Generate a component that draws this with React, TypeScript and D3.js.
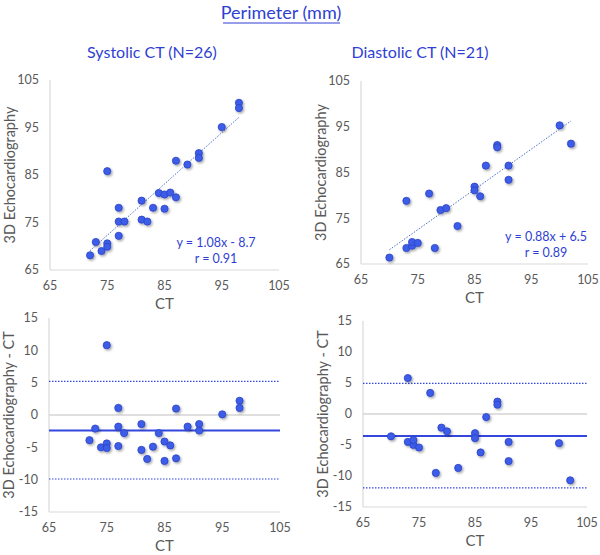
import React from "react";
import * as d3 from "d3";

// ---- Data ----
const sysCT = [72, 73, 74, 75, 75, 75, 77, 77, 77, 78, 81, 81, 82, 83, 84, 85, 85, 86, 87, 87, 89, 91, 91, 95, 98, 98];
const sysEcho = [68.1, 70.9, 69.0, 70.6, 69.9, 85.8, 72.2, 78.1, 75.2, 75.2, 79.6, 75.6, 75.2, 78.1, 81.2, 80.9, 77.9, 81.3, 80.3, 88.0, 87.2, 89.6, 88.6, 95.1, 100.2, 99.1];
const diaCT = [70, 73, 73, 74, 74, 75, 77, 78, 79, 80, 82, 85, 85, 86, 87, 89, 89, 91, 91, 100, 102];
const diaEcho = [66.4, 68.5, 78.8, 69.0, 69.8, 69.6, 80.4, 68.5, 76.8, 77.2, 73.3, 81.9, 81.1, 79.8, 86.5, 91.0, 90.5, 86.5, 83.4, 95.3, 91.3];

const sysFit = { slope: 1.08, intercept: -8.7, eq: "y = 1.08x - 8.7", r: "r = 0.91" };
const diaFit = { slope: 0.88, intercept: 6.5, eq: "y = 0.88x + 6.5", r: "r = 0.89" };

const sysBA = { mean: -2.4, upper: 5.2, lower: -9.9 };
const diaBA = { mean: -3.55, upper: 4.95, lower: -11.9 };

const xTicks = [65, 75, 85, 95, 105];
const yTicksScatter = [65, 75, 85, 95, 105];
const yTicksBA = [-15, -10, -5, 0, 5, 10, 15];

const mainTitle = "Perimeter (mm)";
const sysTitle = "Systolic CT (N=26)";
const diaTitle = "Diastolic CT (N=21)";

const FONT = "Lato, 'Open Sans', sans-serif";
const BLUE_TEXT = "#2f3fd4";
const GRAY_TEXT = "#595959";
const AXIS = "#d9d9d9";
const PT_FILL = "#3d5ce8";
const PT_STROKE = "#2b44c4";
const LINE_BLUE = "#3347dd";

type Box = { x0: number; x1: number; y0: number; y1: number };

function Axes({ box, xs, ys, yTicks, yTitle, zeroLine }: any) {
  return (
    <g>
      {zeroLine && (
        <line x1={box.x0} x2={box.x1} y1={ys(0)} y2={ys(0)} stroke="#bfbfbf" strokeWidth={1.2} />
      )}
      <line x1={box.x0} x2={box.x0} y1={box.y0} y2={box.y1} stroke={AXIS} strokeWidth={1.2} />
      <line x1={box.x0} x2={box.x1} y1={box.y1} y2={box.y1} stroke={AXIS} strokeWidth={1.2} />
      {yTicks.map((t: number) => (
        <text key={"y" + t} x={box.x0 - 11} y={ys(t)} dy="0.35em" textAnchor="end" fontSize={12.5} fill={GRAY_TEXT} fontFamily={FONT}>
          {t}
        </text>
      ))}
      {xTicks.map((t: number) => (
        <text key={"x" + t} x={xs(t)} y={box.y1 + 16} dy="0.35em" textAnchor="middle" fontSize={12.5} fill={GRAY_TEXT} fontFamily={FONT}>
          {t}
        </text>
      ))}
      <text x={(box.x0 + box.x1) / 2} y={box.y1 + 34} dy="0.35em" textAnchor="middle" fontSize={15} fill={GRAY_TEXT} fontFamily={FONT}>
        CT
      </text>
      <text
        transform={`translate(${box.x0 - 40},${(box.y0 + box.y1) / 2}) rotate(-90)`}
        dy="0.35em"
        textAnchor="middle"
        fontSize={14.5}
        fill={GRAY_TEXT}
        fontFamily={FONT}
      >
        {yTitle}
      </text>
    </g>
  );
}

function Points({ xs, ys, cx, cy }: any) {
  return (
    <g filter="url(#shadow)">
      {cx.map((v: number, i: number) => (
        <circle key={i} cx={xs(v)} cy={ys(cy[i])} r={3.6} fill={PT_FILL} stroke={PT_STROKE} strokeWidth={0.8} />
      ))}
    </g>
  );
}

function ScatterPanel({ box, ct, echo, fit, eqPos }: any) {
  const xs = d3.scaleLinear().domain([65, 105]).range([box.x0, box.x1]);
  const ys = d3.scaleLinear().domain([65, 105]).range([box.y1, box.y0]);
  const [mn, mx] = d3.extent(ct) as [number, number];
  const line = d3.line<number>().x((d) => xs(d)).y((d) => ys(fit.slope * d + fit.intercept));
  return (
    <g>
      <Axes box={box} xs={xs} ys={ys} yTicks={yTicksScatter} yTitle="3D Echocardiography" />
      <path d={line([mn, mx]) || ""} fill="none" stroke="#4a6fd0" strokeWidth={1} strokeDasharray="1.5 1.5" />
      <Points xs={xs} ys={ys} cx={ct} cy={echo} />
      <text x={eqPos[0]} y={eqPos[1]} dy="0.35em" textAnchor="middle" fontSize={12.5} fill={BLUE_TEXT} fontFamily={FONT}>
        {fit.eq}
      </text>
      <text x={eqPos[0]} y={eqPos[1] + 15.5} dy="0.35em" textAnchor="middle" fontSize={12.5} fill={BLUE_TEXT} fontFamily={FONT}>
        {fit.r}
      </text>
    </g>
  );
}

function BAPanel({ box, ct, echo, ba }: any) {
  const xs = d3.scaleLinear().domain([65, 105]).range([box.x0, box.x1]);
  const ys = d3.scaleLinear().domain([-15, 15]).range([box.y1, box.y0]);
  const diffs = echo.map((e: number, i: number) => e - ct[i]);
  return (
    <g>
      <Axes box={box} xs={xs} ys={ys} yTicks={yTicksBA} yTitle="3D Echocardiography - CT" zeroLine />
      <line x1={box.x0} x2={box.x1} y1={ys(ba.upper)} y2={ys(ba.upper)} stroke={LINE_BLUE} strokeWidth={1.2} strokeDasharray="1.5 1.5" />
      <line x1={box.x0} x2={box.x1} y1={ys(ba.lower)} y2={ys(ba.lower)} stroke={LINE_BLUE} strokeWidth={1.2} strokeDasharray="1.5 1.5" />
      <line x1={box.x0} x2={box.x1} y1={ys(ba.mean)} y2={ys(ba.mean)} stroke={LINE_BLUE} strokeWidth={1.8} />
      <Points xs={xs} ys={ys} cx={ct} cy={diffs} />
    </g>
  );
}

export default function App() {
  const tl: Box = { x0: 50, x1: 279, y0: 80, y1: 270 };
  const tr: Box = { x0: 361, x1: 588, y0: 81, y1: 264 };
  const bl: Box = { x0: 49, x1: 280, y0: 318, y1: 512 };
  const br: Box = { x0: 363, x1: 587, y0: 321, y1: 507 };
  return (
    <svg width={600} height={555} style={{ position: "absolute", left: 0, top: 0, background: "#fff" }}>
      <defs>
        <filter id="shadow" x="-50%" y="-50%" width="200%" height="200%">
          <feDropShadow dx={1.3} dy={1.5} stdDeviation={0.9} floodColor="#000" floodOpacity={0.35} />
        </filter>
      </defs>
      <rect width={600} height={555} fill="#fff" />
      <text x={281} y={13} dy="0.35em" textAnchor="middle" fontSize={18} fill={BLUE_TEXT} fontFamily={FONT}>
        {mainTitle}
      </text>
      <line x1={223} x2={340} y1={23} y2={23} stroke={BLUE_TEXT} strokeWidth={1} />
      <text x={152} y={52} dy="0.35em" textAnchor="middle" fontSize={16} fill={BLUE_TEXT} fontFamily={FONT}>
        {sysTitle}
      </text>
      <text x={420} y={52} dy="0.35em" textAnchor="middle" fontSize={16} fill={BLUE_TEXT} fontFamily={FONT}>
        {diaTitle}
      </text>
      <ScatterPanel box={tl} ct={sysCT} echo={sysEcho} fit={sysFit} eqPos={[216, 243]} />
      <ScatterPanel box={tr} ct={diaCT} echo={diaEcho} fit={diaFit} eqPos={[546, 237]} />
      <BAPanel box={bl} ct={sysCT} echo={sysEcho} ba={sysBA} />
      <BAPanel box={br} ct={diaCT} echo={diaEcho} ba={diaBA} />
    </svg>
  );
}
